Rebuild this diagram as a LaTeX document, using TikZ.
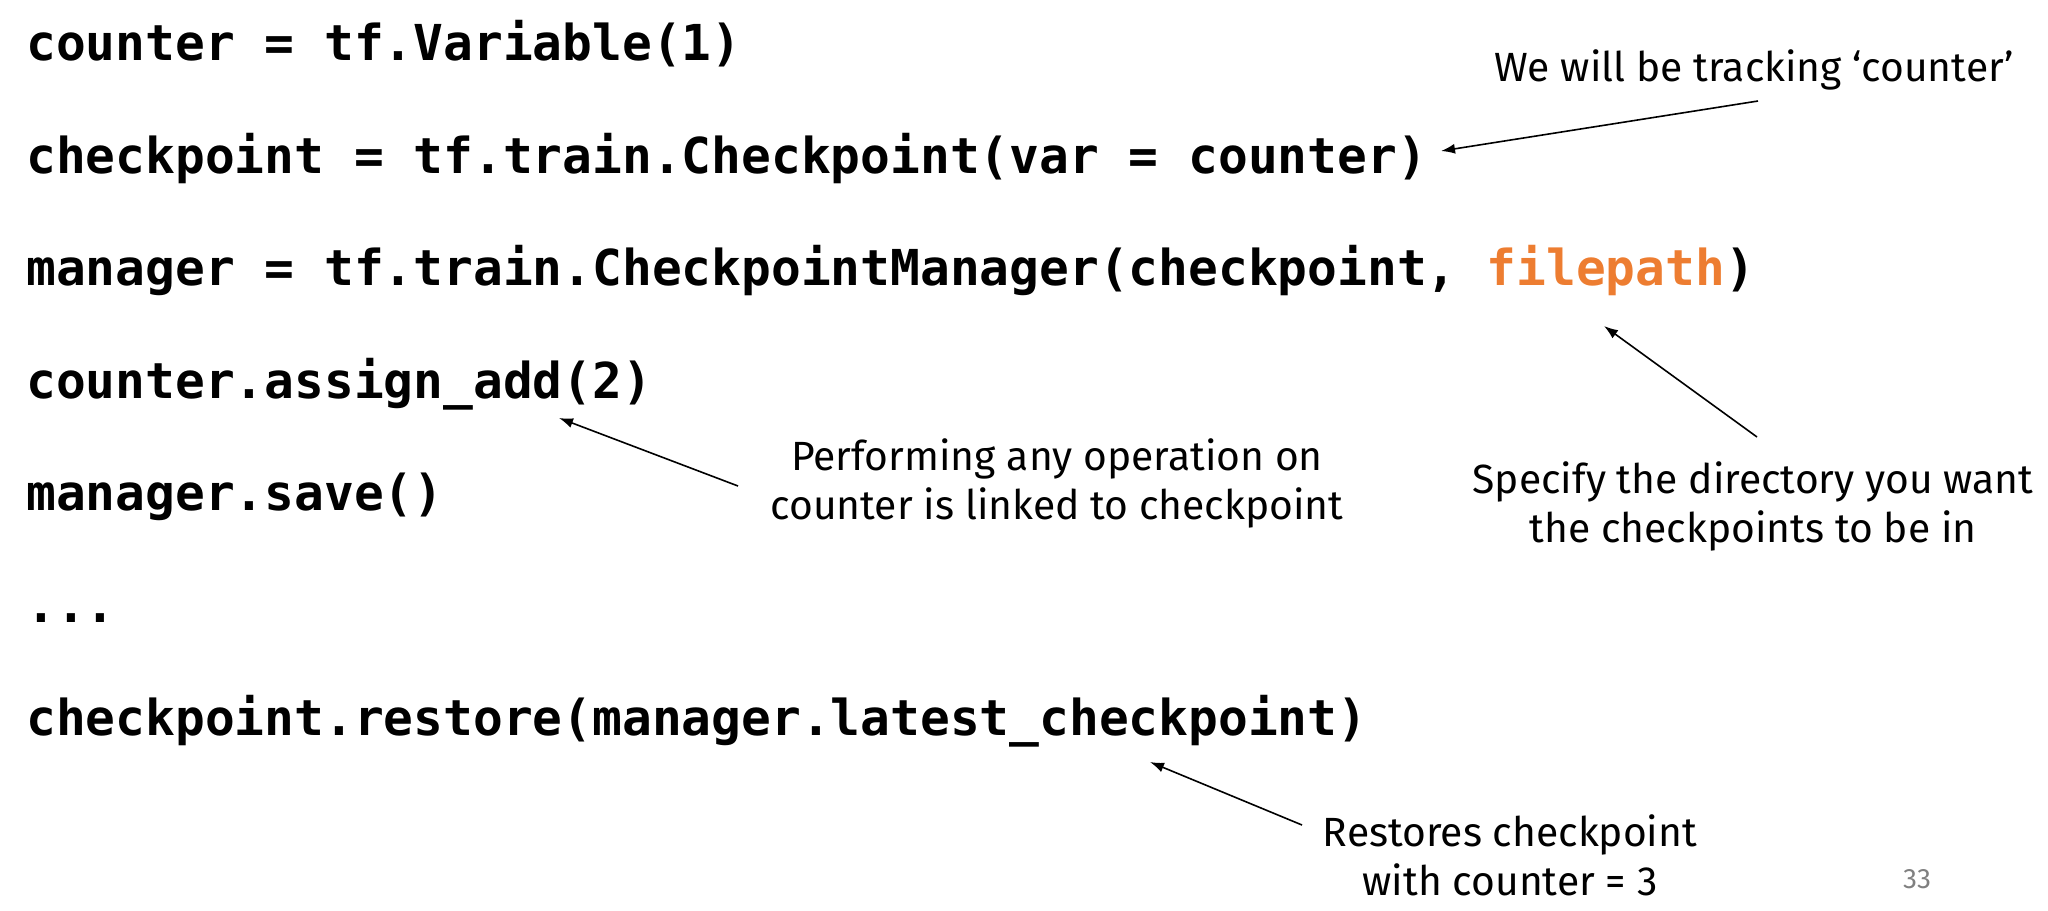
\documentclass[tikz,border=0pt]{standalone}
\usepackage{fontspec}
\setmainfont{Fira Sans}
\newfontfamily\codefont{DejaVu Sans Mono}
\usetikzlibrary{arrows.meta}
\definecolor{pathorange}{RGB}{237,125,49}
\tikzset{code/.style = {anchor = base west, inner sep = 0,
    font = \codefont\bfseries\fontsize{24.75}{30}\selectfont}}
\tikzset{note/.style = {align = center, inner sep = 0,
    font = \fontsize{20.4}{24.5}\selectfont}}
\tikzset{pointer/.style = {-{Latex[length = 7pt, width = 5pt]}, line width = 0.8pt}}

\begin{document}
\begin{tikzpicture}[x = 0.5pt, y = -0.5pt]
    \useasboundingbox (0, 0) rectangle (2048, 910);
    \node [code] (var) at (26, 60) {counter = tf.Variable(1)};
    \node [code] (ckpt) at (26, 173) {checkpoint = tf.train.Checkpoint(var = counter)};
    \node [code] (mgr) at (26, 285) {manager = tf.train.CheckpointManager(checkpoint, \textcolor{pathorange}{filepath})};
    \node [code] (add) at (26, 398) {counter.assign\_add(2)};
    \node [code] (save) at (26, 510) {manager.save()};
    \node [code] (dots) at (26, 622) {...};
    \node [code] (restore) at (26, 735) {checkpoint.restore(manager.latest\_checkpoint)};

    \node [note, anchor = base] (track) at (1754, 81) {We will be tracking ‘counter’};
    \node [note, anchor = base] (spec) at (1753, 542) {Specify the directory you want\\the checkpoints to be in};
    \node [note, anchor = base] (perform) at (1057, 519) {Performing any operation on\\counter is linked to checkpoint};
    \node [note, anchor = base] (restored) at (1510, 895) {Restores checkpoint\\with counter = 3};
    \node [anchor = base, inner sep = 0, text = gray, font = \fontsize{14}{16}\selectfont] (page) at (1917, 888) {33};

    \coordinate (track tail) at (1758, 101);
    \coordinate (track tip) at (1441, 151);
    \coordinate (spec tail) at (1757, 437);
    \coordinate (spec tip) at (1604, 326);
    \coordinate (perform tail) at (738, 486);
    \coordinate (perform tip) at (559, 418);
    \coordinate (restored tail) at (1302, 825);
    \coordinate (restored tip) at (1150, 762);
    \draw [pointer] (track tail) -- (track tip);
    \draw [pointer] (spec tail) -- (spec tip);
    \draw [pointer] (perform tail) -- (perform tip);
    \draw [pointer] (restored tail) -- (restored tip);
\end{tikzpicture}
\end{document}
